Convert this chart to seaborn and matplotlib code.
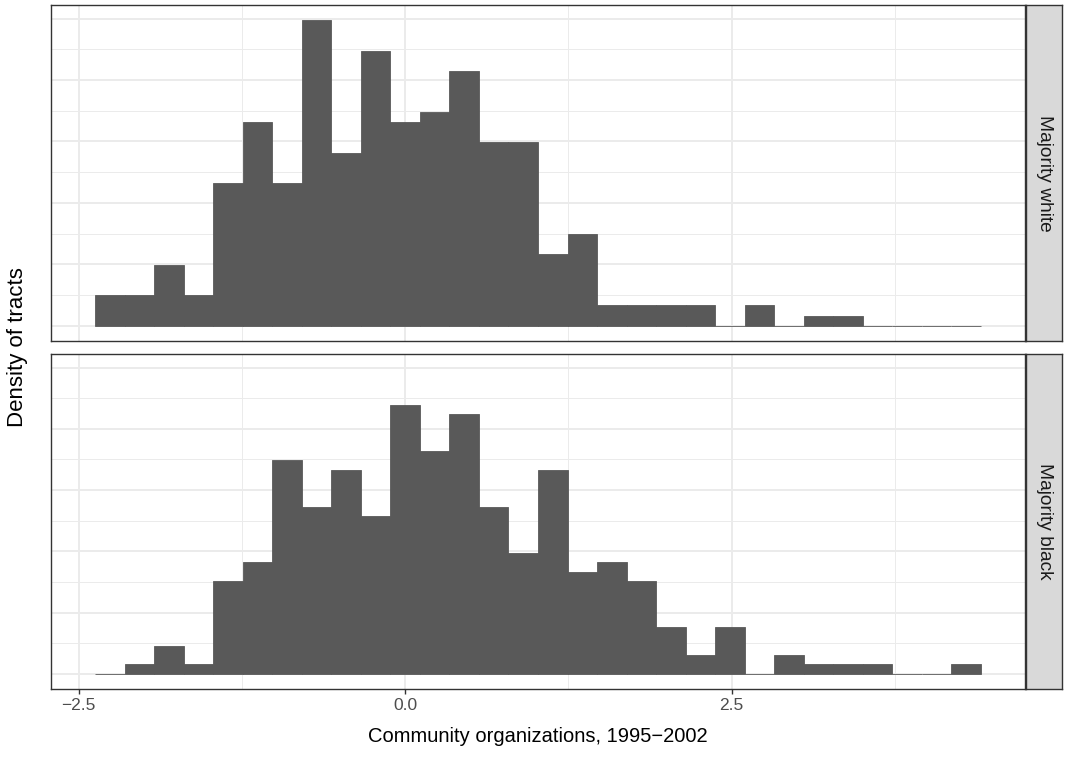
import numpy as np
import pandas as pd
import matplotlib
matplotlib.use("Agg")
import matplotlib.pyplot as plt
import seaborn as sns
from matplotlib.ticker import MultipleLocator

# ---- data ----
bin_start = -2.372
bin_end = 4.407
n_bins = 30
groups = ["Majority white", "Majority black"]
counts_white = [3, 3, 6, 3, 14, 20, 14, 30, 17, 27, 20, 21, 25, 18, 18,
                7, 9, 2, 2, 2, 2, 0, 2, 0, 1, 1, 0, 0, 0, 0]
counts_black = [0, 1, 3, 1, 10, 12, 23, 18, 22, 17, 29, 24, 28, 18, 13,
                22, 11, 12, 10, 5, 2, 5, 0, 2, 1, 1, 1, 0, 0, 1]
x_ticks = [-2.5, 0.0, 2.5]
x_tick_labels = ["\u22122.5", "0.0", "2.5"]
x_label = "Community organizations, 1995\u22122002"
y_label = "Density of tracts"

edges = np.linspace(bin_start, bin_end, n_bins + 1)
centers = (edges[:-1] + edges[1:]) / 2
df = pd.concat([
    pd.DataFrame({"x": np.repeat(centers, counts_white), "group": groups[0]}),
    pd.DataFrame({"x": np.repeat(centers, counts_black), "group": groups[1]}),
], ignore_index=True)

sns.set_theme(style="white")
plt.rcParams["font.family"] = ["Liberation Sans", "DejaVu Sans"]

W, H = 1066, 757
fig = plt.figure(figsize=(W / 100, H / 100), dpi=100)

def px_axes(x0, y0, x1, y1):
    return fig.add_axes([x0 / W, 1 - y1 / H, (x1 - x0) / W, (y1 - y0) / H])

panels = [(5, 341), (354, 689)]
fill = "#595959"
border = "#333333"
grid = "#EBEBEB"

# common y-limits (fixed scales as in facet_grid)
w = edges[1] - edges[0]
dmax = max(max(counts_white) / (sum(counts_white) * w),
           max(counts_black) / (sum(counts_black) * w))
xr = bin_end - bin_start
xlim = (bin_start - 0.05 * xr, bin_end + 0.05 * xr)
ylim = (-0.05 * dmax, 1.05 * dmax)

for i, (g, (y0, y1)) in enumerate(zip(groups, panels)):
    ax = px_axes(51, y0, 1025, y1)
    sub = df[df["group"] == g]
    sns.histplot(data=sub, x="x", bins=list(edges), stat="density",
                 color=fill, alpha=1, edgecolor=fill, linewidth=0.6, ax=ax,
                 zorder=3)
    ax.set_xlim(xlim)
    ax.set_ylim(ylim)
    ax.xaxis.set_major_locator(MultipleLocator(2.5))
    ax.xaxis.set_minor_locator(MultipleLocator(1.25))
    ax.yaxis.set_major_locator(MultipleLocator(0.1))
    ax.yaxis.set_minor_locator(MultipleLocator(0.05))
    ax.set_xticks(x_ticks)
    ax.grid(which="major", color=grid, linewidth=1.4, zorder=0)
    ax.grid(which="minor", color=grid, linewidth=0.7, zorder=0)
    ax.set_axisbelow(True)
    ax.set_facecolor("white")
    for s in ax.spines.values():
        s.set_color(border)
        s.set_linewidth(1.0)
        s.set_visible(True)
    ax.set_ylabel("")
    ax.set_xlabel("")
    ax.tick_params(axis="y", left=False, labelleft=False, which="both")
    ax.tick_params(axis="x", which="minor", bottom=False)
    if i == 0:
        ax.tick_params(axis="x", which="major", bottom=False, labelbottom=False)
    else:
        ax.set_xticklabels(x_tick_labels)
        ax.tick_params(axis="x", which="major", bottom=True, length=3.6,
                       width=1.0, color=border, labelsize=12.5,
                       labelcolor="#4D4D4D", pad=3)
    # strip
    sax = px_axes(1026, y0, 1062, y1)
    sax.set_facecolor("#D9D9D9")
    sax.set_xticks([])
    sax.set_yticks([])
    for s in sax.spines.values():
        s.set_color(border)
        s.set_linewidth(1.0)
        s.set_visible(True)
    sax.text(0.5, 0.5, g, rotation=-90, ha="center", va="center",
             fontsize=13.8, color="#1A1A1A", transform=sax.transAxes)

fig.text(538 / W, 1 - 736 / H, x_label, ha="center", va="center",
         fontsize=14.5, color="black")
fig.text(18 / W, 1 - 347 / H, y_label, ha="center", va="center",
         rotation=90, fontsize=16, color="black")

fig.savefig("out.png", dpi=100)
